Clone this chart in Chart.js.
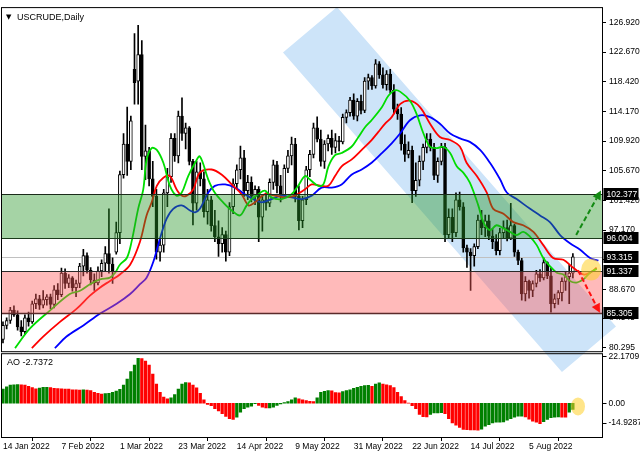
<!DOCTYPE html>
<html>
<head>
<meta charset="utf-8">
<script src="https://cdn.jsdelivr.net/npm/chart.js@4.4.1/dist/chart.umd.min.js"></script>
<style>
  html, body { margin: 0; padding: 0; background: #fff; }
  #wrap { width: 640px; height: 457px; }
</style>
</head>
<body>
<div id="wrap"><canvas id="chart" width="640" height="457"></canvas></div>
<script>
// x axis labels sit every 16 bars
const tickIdx = [0, 16, 32, 48, 64, 80, 96, 112, 128, 144];
const dateLabels = ['14 Jan 2022', '7 Feb 2022', '1 Mar 2022', '23 Mar 2022', '14 Apr 2022',
  '9 May 2022', '31 May 2022', '22 Jun 2022', '14 Jul 2022', '5 Aug 2022'];

// daily candles, one per bar index
const opens = [81.5,83.5,84.2,85.7,85.0,83.3,82.6,84.6,84.0,86.6, 87.3,86.4,87.2,87.6,86.5,88.6,87.9,91.0,89.5,90.3,
  88.9,89.5,92.0,93.5,91.4,90.0,89.6,91.3,92.4,93.8, 92.3,94.0,96.8,105.1,109.5,107.0,120.2,118.5,122.3,107.7,
  108.5,104.5,102.0,94.0,95.0,102.5,104.8,110.3,107.8,113.5, 111.0,111.8,107.0,101.0,105.5,104.5,99.8,101.5,97.8,96.2,
  95.2,96.5,94.0,100.5,103.8,105.8,107.5,102.8,104.0,102.0, 103.0,99.0,101.5,101.0,104.0,106.5,103.5,102.2,106.0,107.8,
  109.5,102.0,98.5,101.5,105.8,108.0,111.8,110.2,107.0,109.5, 110.3,109.0,110.0,109.8,113.3,114.0,115.8,113.5,115.6,114.3,
  118.5,119.0,117.8,121.0,119.4,118.0,119.5,117.2,114.5,113.8, 109.5,108.0,108.6,102.8,104.3,107.0,109.0,110.2,109.0,105.0,
  107.0,109.0,96.5,99.0,96.8,101.5,100.5,94.6,94.0,93.5, 94.8,98.6,97.5,98.5,96.3,95.5,94.2,96.8,97.5,96.0,
  97.8,94.0,92.8,88.0,89.8,88.5,89.5,90.9,90.3,92.5, 90.6,86.6,87.3,88.2,89.8,90.5,91.0];
const highs = [84.0,84.6,86.1,86.3,85.6,84.2,85.0,85.4,87.0,88.0, 87.8,88.5,87.9,88.0,89.2,89.5,91.7,91.6,90.8,90.5,
  90.0,92.4,94.4,93.9,91.8,90.9,91.9,92.9,94.8,100.2, 93.2,98.3,105.6,111.0,114.8,113.5,125.3,126.5,124.3,112.2,
  109.0,107.0,103.0,96.0,103.0,106.0,111.0,111.0,114.2,116.1, 112.5,112.0,107.3,107.0,106.8,105.5,103.0,102.0,100.0,98.5,
  97.5,97.0,101.1,104.5,106.5,109.2,108.6,105.0,104.8,103.5, 103.4,102.0,102.5,104.5,107.2,107.0,105.0,106.5,108.6,110.5,
  110.3,103.5,102.0,106.3,108.6,112.5,113.4,111.5,110.0,110.8, 111.5,111.0,110.6,113.8,114.4,116.2,116.7,116.0,116.5,119.0,
  119.5,119.3,121.6,121.3,120.4,120.0,120.2,118.0,115.2,114.7, 110.8,109.8,109.2,106.8,107.8,109.5,111.0,111.0,109.6,107.5,
  109.6,109.6,100.2,100.2,102.5,102.6,101.1,95.0,94.5,95.2, 99.3,100.0,99.3,99.3,97.4,96.5,97.4,98.5,98.6,101.0,
  98.0,94.3,93.1,90.5,90.0,89.9,91.4,91.5,93.2,92.6, 91.7,88.0,88.5,90.3,91.2,92.2,93.8];
const lows = [81.0,83.0,83.8,84.8,82.8,82.0,82.2,83.4,83.8,85.9, 85.8,86.0,86.4,85.9,86.0,87.2,87.6,88.8,88.9,88.4,
  87.6,88.9,90.6,91.0,89.3,88.5,89.3,90.5,91.2,91.0, 89.5,93.7,95.2,104.6,105.0,105.8,115.2,115.2,105.8,104.4,
  103.5,100.5,93.0,92.7,94.0,100.5,104.0,107.0,106.8,110.0, 108.8,106.5,97.9,100.0,103.5,99.0,98.0,97.0,95.5,93.4,
  94.0,92.7,93.5,99.5,103.0,104.5,102.0,101.5,101.2,100.8, 95.5,97.0,100.0,100.5,103.0,102.5,101.2,102.0,105.4,106.5,
  101.2,97.2,97.5,100.8,104.8,107.5,109.8,106.3,106.0,108.5, 108.0,108.2,108.5,109.5,112.5,113.5,113.0,112.8,113.8,114.0,
  117.3,117.3,117.5,118.9,117.5,117.2,116.8,113.8,113.0,108.6, 107.0,107.5,101.1,102.0,103.5,105.8,108.2,108.5,104.4,104.0,
  106.5,95.5,96.0,95.5,96.2,100.0,94.0,91.8,88.5,92.0, 94.5,96.5,96.2,95.8,94.5,93.6,93.6,96.0,95.6,95.8,
  93.4,92.2,87.1,87.0,87.4,87.6,89.0,89.8,90.0,90.2, 85.4,86.0,86.5,87.0,88.5,86.6,90.3];
const closes = [83.5,84.2,85.7,85.0,83.3,82.6,84.6,84.0,86.6,87.3, 86.4,87.2,87.6,86.5,88.6,87.9,91.0,89.5,90.3,88.9,
  89.5,92.0,93.5,91.4,90.0,89.6,91.3,92.4,93.8,92.3, 91.2,96.8,105.1,109.5,107.0,112.8,118.3,122.3,107.7,108.5,
  104.5,102.0,94.0,95.0,102.5,104.8,110.3,107.8,113.5,111.0, 111.8,107.0,101.0,105.5,104.5,99.8,101.5,97.8,96.2,95.2,
  96.5,94.0,100.5,103.8,105.8,107.5,102.8,104.0,102.0,103.0, 99.0,101.5,101.0,104.0,106.5,103.5,102.2,106.0,107.8,109.5,
  102.0,98.5,101.5,105.8,108.0,111.8,110.2,107.0,109.5,110.3, 109.0,110.0,109.8,113.3,114.0,115.8,113.5,115.6,114.3,118.5,
  119.0,117.8,121.0,119.4,118.0,119.5,117.2,114.5,113.8,109.5, 108.0,108.6,102.8,104.3,107.0,109.0,110.2,109.0,105.0,107.0,
  109.0,96.5,99.0,96.8,101.5,100.5,94.6,94.0,93.5,94.8, 98.6,97.5,98.5,96.3,95.5,94.2,96.8,97.5,96.0,97.8,
  94.0,92.8,88.0,89.8,88.5,89.5,90.9,90.3,92.5,90.6, 86.6,87.3,88.2,89.8,90.5,91.0,93.315];

// alligator lines (bar index, price)
const lipsIdx = [3.3,7.4,12.9,18.3,21.1,23.8,26.6,29.3,30.7,32.0,33.9,35.2,37.0,38.4,39.3,40.7,42.1,43.9,45.7,47.5,
  48.9,50.7,52.6,53.9,56.2,58.0,60.3,62.6,64.9,66.7,68.1,69.9,71.7,73.5,76.3,79.0,80.8,82.7,84.0,86.3,
  87.7,89.1,90.9,92.7,95.4,97.3,99.1,100.9,103.7,105.5,107.3,108.7,111.4,113.2,115.1,116.9,118.7,120.5,122.4,124.2,
  126.0,127.8,130.1,131.5,133.3,135.1,137.0,138.8,140.6,142.4,144.3,146.1,147.9,149.7,151.6,153.4,155.2,157.0,158.9,160.7,162.5];
const lipsVal = [80.25,83.07,85.65,88.0,88.47,89.4,90.1,90.34,91.05,92.2,93.16,95.5,100.2,103.0,107.2,108.9,108.65,106.8,103.5,102.1,
  102.5,104.9,106.8,107.7,104.4,102.5,101.1,99.97,99.26,100.7,101.6,102.3,102.8,101.85,101.6,102.3,103.5,104.9,104.4,103.5,
  103.7,106.3,107.9,108.2,109.1,110.5,111.9,112.9,114.75,116.4,117.2,117.0,115.7,113.8,111.0,109.1,108.9,109.1,108.2,106.3,
  105.4,103.95,100.7,98.3,97.15,97.85,97.4,96.9,96.45,96.9,96.2,95.0,93.16,92.0,91.05,90.8,89.87,89.64,90.1,91.05,91.6];
const teethIdx = [7.9,11.0,15.6,20.2,23.8,26.6,29.3,32.0,34.8,37.5,39.3,40.7,42.1,43.9,45.7,47.5,48.9,50.3,52.1,53.9,
  57.1,59.9,62.6,65.3,67.2,69.0,71.7,74.5,77.2,79.9,82.7,84.5,87.2,89.1,90.9,92.7,95.4,98.2,100.9,102.7,
  104.6,106.4,108.7,111.4,114.2,116.9,119.6,122.4,125.1,126.9,129.7,132.4,134.2,137.0,139.7,142.4,145.2,147.9,150.6,153.4,
  156.1,158.9,160.7,162.5];
const teethVal = [80.25,81.9,84.0,85.9,87.76,88.94,89.87,90.8,92.2,95.5,99.26,101.14,103.5,104.66,104.9,103.0,102.1,102.1,103.0,105.4,
  105.84,105.1,103.7,102.3,100.7,101.14,102.3,102.1,101.85,102.1,103.0,103.7,103.5,103.5,104.9,106.3,107.25,108.65,110.06,111.2,
  112.4,113.35,115.2,115.7,114.75,112.4,110.5,110.06,109.1,106.8,104.9,102.55,100.2,99.5,98.3,97.85,96.9,95.0,93.16,92.9,
  91.75,90.8,91.05,91.75];
const jawIdx = [14.2,17.4,22.0,26.6,31.1,34.8,37.5,39.3,41.2,43.0,44.8,46.6,48.9,51.2,52.6,53.9,56.2,58.0,60.8,63.5,
  66.2,68.5,70.8,73.5,76.3,79.0,81.8,84.5,87.2,90.0,92.7,95.4,98.2,100.9,103.7,106.4,108.7,111.4,114.2,116.9,
  119.6,122.4,125.1,127.8,130.6,133.3,136.1,137.9,140.6,144.3,147.0,149.7,152.5,155.2,158.0,160.7,163.0];
const jawVal = [80.25,81.9,83.5,85.2,86.6,88.0,89.4,90.34,92.7,96.0,98.8,100.2,100.7,99.97,99.7,100.2,102.55,103.5,103.7,103.25,
  102.3,101.6,101.14,101.6,102.1,101.85,101.6,102.1,103.25,103.25,103.7,105.1,105.84,106.8,108.18,109.6,111.0,112.9,113.6,113.35,
  112.4,111.0,110.3,109.8,108.65,106.8,104.4,102.55,101.6,100.2,99.26,98.3,96.45,95.27,94.33,93.16,92.8];

// awesome oscillator, one per bar
const aoValues = [6.3,7.3,8.1,8.2,8.25,8.2,8.1,7.5,7.0,6.4, 6.7,7.05,7.1,6.9,6.6,6.55,6.45,6.3,6.25,6.0,
  5.9,5.85,5.9,5.85,5.6,4.9,4.4,4.1,4.3,4.4, 4.9,5.4,6.2,8.1,10.7,14.0,16.9,19.9,19.8,18.7,
  16.9,12.9,8.5,4.9,2.7,1.95,2.4,3.8,6.3,8.5, 9.2,9.1,8.0,6.8,4.4,1.5,-0.5,-1.1,-2.4,-3.4,
  -4.6,-5.8,-6.8,-7.1,-6.1,-3.9,-2.4,-1.7,-1.25,-0.2, -0.95,-1.7,-2.1,-2.05,-1.7,-0.95,-0.25,0.35,0.8,1.5,
  2.4,1.95,1.5,1.2,0.9,0.8,2.4,4.9,5.3,5.6, 5.5,4.7,4.6,5.15,5.6,6.0,6.6,7.05,7.5,7.8,
  7.9,7.5,8.5,9.1,8.5,8.2,7.8,6.9,4.9,2.95, 1.2,0.1,-1.1,-2.4,-4.9,-5.9,-6.0,-4.9,-4.3,-4.25,
  -4.2,-4.6,-6.8,-8.7,-9.7,-10.7,-11.6,-11.7,-11.75,-11.8, -11.9,-11.5,-10.1,-9.5,-8.7,-8.4,-8.35,-8.2,-7.5,-6.8,
  -6.2,-5.75,-5.7,-6.0,-7.0,-7.9,-8.4,-9.0,-8.1,-7.2, -6.35,-6.1,-6.0,-6.1,-6.2,-3.9,-2.7372];

// price axis labels and drawn levels
const priceTicks = [126.92, 122.67, 118.42, 114.17, 109.92, 105.67, 101.42, 97.17, 92.92, 88.67, 84.545, 80.295];
const aoTicks = [22.1709, 0, -14.9287];
const aoTickText = ['22.1709', '0.00', '-14.9287'];
const greenZone = [96.004, 102.377];
const redZone = [85.305, 91.337];
const markedLevels = [102.377, 96.004, 93.315, 91.337, 85.305];
const channelIdx = [76.65, 91.43, 167.8, 153.0];
const channelVal = [122.61, 129.11, 83.33, 76.83];
const upArrow = [156.9, 96.47, 163.7, 102.83];
const downArrow = [157.4, 91.4, 163.4, 85.3];
const priceMark = [161.0, 91.5];
const aoMark = [157.4, -1.4];

const FONT = 'Liberation Sans';
Chart.defaults.font.family = FONT;

const bars = closes.map((c, i) => i);
const lastClose = closes[closes.length - 1];

function arrow(ctx, x, y, a, color) {
  const X0 = x.getPixelForValue(a[0]), Y0 = y.getPixelForValue(a[1]);
  const X1 = x.getPixelForValue(a[2]), Y1 = y.getPixelForValue(a[3]);
  const ang = Math.atan2(Y1 - Y0, X1 - X0);
  const c = Math.cos(ang), s = Math.sin(ang);
  const head = 9, half = 4.5;
  ctx.strokeStyle = color;
  ctx.fillStyle = color;
  ctx.lineWidth = 2;
  ctx.setLineDash([5, 3]);
  ctx.beginPath();
  ctx.moveTo(X0, Y0);
  ctx.lineTo(X1 - head * c, Y1 - head * s);
  ctx.stroke();
  ctx.setLineDash([]);
  ctx.beginPath();
  ctx.moveTo(X1, Y1);
  ctx.lineTo(X1 - head * c + half * s, Y1 - head * s - half * c);
  ctx.lineTo(X1 - head * c - half * s, Y1 - head * s + half * c);
  ctx.closePath();
  ctx.fill();
}

const overlay = {
  id: 'overlay',
  beforeDraw(chart) {
    const {ctx, scales: {x, y}} = chart;
    ctx.save();
    ctx.fillStyle = '#cde4f9';
    ctx.beginPath();
    channelIdx.forEach((v, k) => {
      const X = x.getPixelForValue(v), Y = y.getPixelForValue(channelVal[k]);
      if (k) ctx.lineTo(X, Y); else ctx.moveTo(X, Y);
    });
    ctx.closePath();
    ctx.fill();
    ctx.restore();
  },
  beforeDatasetsDraw(chart) {
    const {ctx, chartArea: {left, right}, scales: {y}} = chart;
    const Y = Math.round(y.getPixelForValue(lastClose)) + 0.5;
    ctx.save();
    ctx.strokeStyle = '#c0c0c0';
    ctx.lineWidth = 1;
    ctx.beginPath();
    ctx.moveTo(left, Y);
    ctx.lineTo(right, Y);
    ctx.stroke();
    ctx.restore();
  },
  afterDatasetsDraw(chart) {
    const {ctx, chartArea: {left, right}, scales: {x, y, ao}} = chart;
    ctx.save();

    // zones
    const zone = (z, fill, edgeTop, edgeBottom, wBottom) => {
      const yt = Math.round(y.getPixelForValue(z[1])), yb = Math.round(y.getPixelForValue(z[0]));
      ctx.fillStyle = fill;
      ctx.fillRect(left, yt, right - left, yb - yt);
      ctx.lineWidth = 1;
      ctx.strokeStyle = edgeTop;
      ctx.beginPath(); ctx.moveTo(left, yt + 0.5); ctx.lineTo(right, yt + 0.5); ctx.stroke();
      ctx.lineWidth = wBottom;
      ctx.strokeStyle = edgeBottom;
      ctx.beginPath(); ctx.moveTo(left, yb + 0.5); ctx.lineTo(right, yb + 0.5); ctx.stroke();
    };
    zone(greenZone, 'rgba(40,150,40,0.42)', '#1b2b1b', '#1b3b1b', 1);
    zone(redZone, 'rgba(255,90,90,0.42)', '#2a2a2a', '#5a2a2a', 1.5);

    // arrows
    arrow(ctx, x, y, upArrow, '#138a13');
    arrow(ctx, x, y, downArrow, '#ff1010');

    // yellow highlights
    ctx.fillStyle = 'rgba(255,208,40,0.55)';
    ctx.beginPath();
    ctx.ellipse(x.getPixelForValue(priceMark[0]), y.getPixelForValue(priceMark[1]), 10, 11, 0, 0, Math.PI * 2);
    ctx.fill();
    ctx.beginPath();
    ctx.ellipse(x.getPixelForValue(aoMark[0]), ao.getPixelForValue(aoMark[1]), 7, 9, 0, 0, Math.PI * 2);
    ctx.fill();

    // panel frames
    ctx.strokeStyle = '#000';
    ctx.lineWidth = 1;
    const L = left - 0.5, R = right + 0.5;
    ctx.strokeRect(L, y.top - 0.5, R - L, y.bottom - y.top);
    ctx.strokeRect(L, ao.top + 1.5, R - L, ao.bottom - ao.top - 1);

    // AO axis labels
    ctx.font = '8.5px ' + FONT;
    ctx.fillStyle = '#000';
    ctx.textBaseline = 'middle';
    ctx.textAlign = 'left';
    aoTicks.forEach((v, k) => {
      const Y = Math.min(Math.max(ao.getPixelForValue(v), ao.top + 4), ao.bottom - 14);
      ctx.beginPath(); ctx.moveTo(R, Math.round(Y) + 0.5); ctx.lineTo(R + 4, Math.round(Y) + 0.5); ctx.stroke();
      ctx.fillText(aoTickText[k], R + 6, Y);
    });

    // marked price levels on the axis
    markedLevels.forEach(v => {
      const Y = Math.round(y.getPixelForValue(v));
      ctx.fillStyle = '#000';
      ctx.fillRect(R + 1, Y - 6, 35, 12);
      ctx.fillStyle = '#fff';
      ctx.fillText(v.toFixed(3), R + 4, Y + 0.5);
    });

    // titles
    ctx.fillStyle = '#000';
    ctx.font = '7px DejaVu Sans';
    ctx.fillText('\u25BC', left + 4, y.top + 9);
    ctx.font = '9px ' + FONT;
    ctx.fillText('USCRUDE,Daily', left + 15, y.top + 9);
    ctx.fillText('AO ' + aoValues[aoValues.length - 1].toFixed(4), left + 5, ao.top + 10);
    ctx.restore();
  }
};

new Chart(document.getElementById('chart'), {
  type: 'bar',
  data: {
    datasets: [
      {
        type: 'line', label: 'Lips', xAxisID: 'x', yAxisID: 'y', order: 1,
        data: lipsIdx.map((v, k) => ({x: v, y: lipsVal[k]})),
        borderColor: '#00dd00', borderWidth: 1.8, pointRadius: 0, tension: 0.35
      },
      {
        type: 'line', label: 'Teeth', xAxisID: 'x', yAxisID: 'y', order: 2,
        data: teethIdx.map((v, k) => ({x: v, y: teethVal[k]})),
        borderColor: '#ff0000', borderWidth: 1.8, pointRadius: 0, tension: 0.35
      },
      {
        type: 'line', label: 'Jaw', xAxisID: 'x', yAxisID: 'y', order: 3,
        data: jawIdx.map((v, k) => ({x: v, y: jawVal[k]})),
        borderColor: '#0000ff', borderWidth: 1.8, pointRadius: 0, tension: 0.35
      },
      {
        label: 'Body', xAxisID: 'x', yAxisID: 'y', order: 4, grouped: false,
        data: bars.map(i => ({x: i, y: [opens[i], closes[i]]})),
        backgroundColor: bars.map(i => closes[i] >= opens[i] ? '#ffffff' : '#000000'),
        borderColor: '#000', borderWidth: 1, borderSkipped: false,
        barThickness: 3, minBarLength: 1
      },
      {
        label: 'Wick', xAxisID: 'x', yAxisID: 'y', order: 5, grouped: false,
        data: bars.map(i => ({x: i, y: [lows[i], highs[i]]})),
        backgroundColor: '#000', barThickness: 1
      },
      {
        label: 'AO', xAxisID: 'x', yAxisID: 'ao', order: 6, grouped: false,
        data: aoValues.map((v, i) => ({x: i, y: v})),
        backgroundColor: aoValues.map((v, i) => (i === 0 || v > aoValues[i - 1]) ? '#008000' : '#ff0000'),
        barThickness: 2.6
      }
    ]
  },
  options: {
    responsive: false,
    animation: false,
    devicePixelRatio: 1,
    events: [],
    layout: { padding: { top: 2, left: 2, right: 0, bottom: 0 } },
    plugins: { legend: { display: false }, tooltip: { enabled: false } },
    scales: {
      x: {
        type: 'linear', position: 'bottom', min: -0.27, max: 163.97, offset: false,
        afterBuildTicks: s => { s.ticks = tickIdx.map(v => ({value: v})); },
        afterFit: s => { s.height = 20; },
        ticks: {
          autoSkip: false, maxRotation: 0, align: 'start', padding: 1, color: '#000',
          font: { size: 8.5 },
          callback: (v, i) => dateLabels[i]
        },
        grid: { drawOnChartArea: false, drawTicks: true, tickLength: 4, color: '#000' },
        border: { display: false }
      },
      y: {
        type: 'linear', axis: 'y', position: 'right', stack: 'panels', stackWeight: 349,
        min: 79.659, max: 128.969, offset: false,
        afterBuildTicks: s => { s.ticks = priceTicks.map(v => ({value: v})); },
        afterFit: s => { s.width = 38; },
        ticks: { autoSkip: false, padding: 3, color: '#000', font: { size: 8.5 }, callback: v => v.toFixed(3) },
        grid: { drawOnChartArea: false, drawTicks: true, tickLength: 4, color: '#000' },
        border: { display: false }
      },
      ao: {
        type: 'linear', axis: 'y', position: 'right', stack: 'panels', stackWeight: 86,
        min: -14.9287, max: 22.6074, offset: false,
        afterFit: s => { s.width = 38; },
        ticks: { display: false },
        grid: { display: false },
        border: { display: false }
      }
    }
  },
  plugins: [overlay]
});
</script>
</body>
</html>
